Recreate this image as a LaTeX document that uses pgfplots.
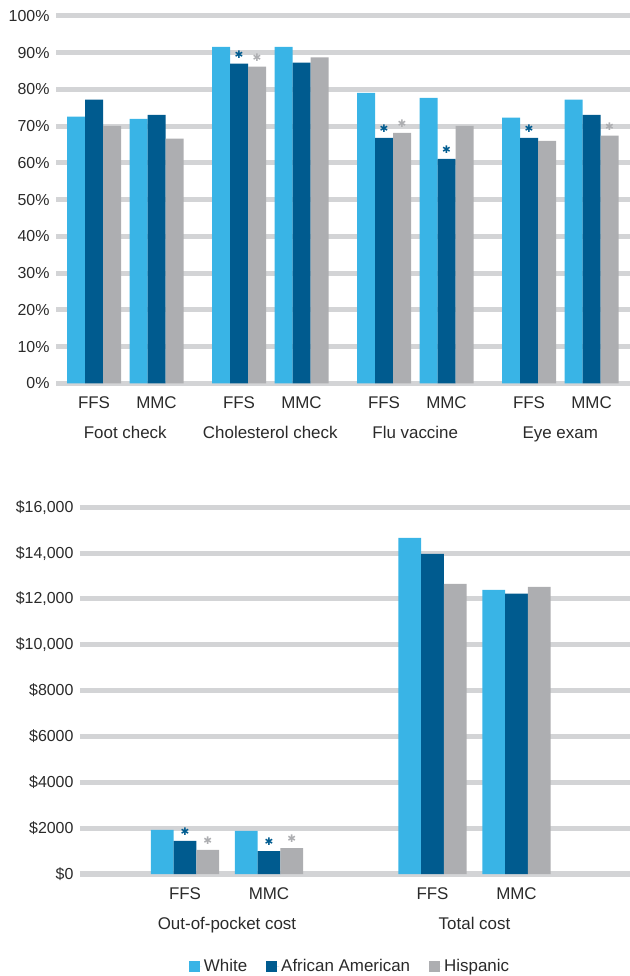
\documentclass[border=0pt]{standalone}
\usepackage{fontspec}
\setmainfont{Liberation Sans}
\newfontfamily\djv{DejaVu Sans}
\usepackage{pgfplots}
\pgfplotsset{compat=1.18}
\definecolor{cW}{HTML}{39B4E6}
\definecolor{cA}{HTML}{005B8F}
\definecolor{cH}{HTML}{ADAEB1}
\definecolor{cG}{HTML}{D3D4D6}
\definecolor{cT}{HTML}{2A2A2A}
\newcommand\stg{{\djv\fontsize{10.5}{11}\selectfont ✱}}
\def\tmpS{s}
\pgfplotsset{
  base/.style={
    scale only axis, anchor=south west, clip=false,
    ybar=0pt,
    axis line style={draw=none},
    major tick length=0pt,
    ymajorgrids, xmajorgrids=false,
    major grid style={cG, line width=5bp},
    scaled y ticks=false,
    yticklabel style={font=\fontsize{16}{19}\selectfont, text=cT, xshift=-3bp},
    xticklabel style={font=\fontsize{17}{20}\selectfont, text=cT, yshift=-9bp,
      text height=12.5bp, text depth=3.5bp},
    extra x tick style={grid=none, major tick length=0pt,
      xticklabel style={yshift=-30bp}},
    point meta=explicit symbolic,
  },
  stars/.style={nodes near coords={\edef\tmpM{\pgfplotspointmeta}\ifx\tmpM\tmpS\stg\fi},
    every node near coord/.append style={anchor=center, yshift=9bp, inner sep=0pt, text=#1}},
}
\begin{document}
\begin{tikzpicture}
\path[use as bounding box] (0,0) rectangle (630bp,976bp);
\begin{axis}[base,
  at={(56bp,592.7bp)}, width=574bp, height=367.3bp,
  xmin=56, xmax=630, ymin=0, ymax=100,
  bar width=18bp,
  ytick={0,10,...,100},
  yticklabels={0\%,10\%,20\%,30\%,40\%,50\%,60\%,70\%,80\%,90\%,100\%},
  xtick={94,156.5,239,301.5,384,446.5,529,591.5},
  xticklabels={FFS,MMC,FFS,MMC,FFS,MMC,FFS,MMC},
  extra x ticks={125.25,270.25,415.25,560.25},
  extra x tick labels={Foot check,Cholesterol check,Flu vaccine,Eye exam},
]
\addplot[fill=cW, draw=none] coordinates {
 (94,72.6) [n] (156.5,72.0) [n] (239,91.6) [n] (301.5,91.6) [n]
 (384,79.1) [n] (446.5,77.7) [n] (529,72.3) [n] (591.5,77.2) [n]};
\addplot[fill=cA, draw=none, stars=cA] coordinates {
 (94,77.2) [n] (156.5,73.1) [n] (239,87.0) [s] (301.5,87.3) [n]
 (384,66.8) [s] (446.5,61.1) [s] (529,66.8) [s] (591.5,73.1) [n]};
\addplot[fill=cH, draw=none, stars=cH] coordinates {
 (94,70.1) [n] (156.5,66.6) [n] (239,86.2) [s] (301.5,88.7) [n]
 (384,68.2) [s] (446.5,70.1) [n] (529,66.0) [n] (591.5,67.4) [s]};
\end{axis}
\begin{axis}[base,
  at={(80bp,102bp)}, width=550bp, height=366.7bp,
  xmin=80, xmax=630, ymin=0, ymax=16000,
  bar width=22.7bp,
  ytick={0,2000,...,16000},
  yticklabels={\$0,\$2000,\$4000,\$6000,\$8000,{\$10,000},{\$12,000},{\$14,000},{\$16,000}},
  xtick={185,269,432.5,516.5},
  xticklabels={FFS,MMC,FFS,MMC},
  extra x ticks={227,474.5},
  extra x tick labels={Out-of-pocket cost,Total cost},
  legend style={at={(0.491,-0.251)}, anchor=center, draw=none, fill=none,
    legend columns=3, font=\fontsize{17}{20}\selectfont, text=cT,
    /tikz/every even column/.append style={column sep=17bp}},
  legend image code/.code={\fill[#1] (0bp,-5.5bp) rectangle (11bp,5.5bp); \path (0bp,0bp) -- (13bp,0bp);},
]
\addplot[fill=cW, draw=none] coordinates {
 (185,1920) [n] (269,1880) [n] (432.5,14670) [n] (516.5,12400) [n]};
\addlegendentry{White}
\addplot[fill=cA, draw=none, stars=cA] coordinates {
 (185,1440) [s] (269,1000) [s] (432.5,13970) [n] (516.5,12230) [n]};
\addlegendentry{African American}
\addplot[fill=cH, draw=none, stars=cH] coordinates {
 (185,1050) [s] (269,1130) [s] (432.5,12660) [n] (516.5,12530) [n]};
\addlegendentry{Hispanic}
\end{axis}
\end{tikzpicture}
\end{document}
